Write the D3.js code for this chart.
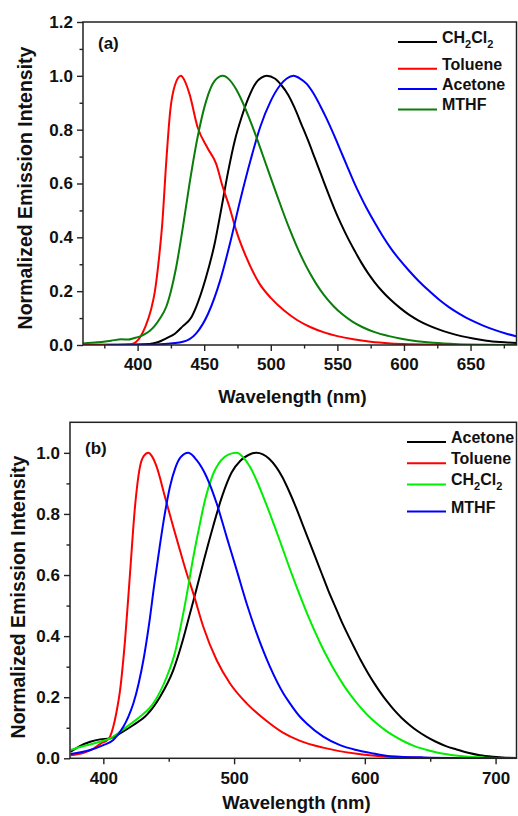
<!DOCTYPE html>
<html>
<head>
<meta charset="utf-8">
<script src="https://cdn.jsdelivr.net/npm/d3@7"></script>
<style>
  html, body { margin: 0; padding: 0; background: #fff; }
  svg { display: block; font-family: "Liberation Sans", Arial, Helvetica, sans-serif; font-weight: bold; }
</style>
</head>
<body>
<svg id="chart" width="518" height="816"></svg>
<script>
// ---------- Panel (a): emission spectra, [wavelength nm, normalized intensity] ----------
const a_CH2Cl2 = [[359,0],[380,0.001],[400,0.002],[409,0.004],[415,0.01],[421.5,0.025],[428,0.042],[434,0.07],[440,0.1],[444,0.142],[451,0.245],[458,0.38],[463,0.51],[468,0.645],[473,0.76],[478,0.845],[483,0.915],[489,0.975],[493,0.993],[497,1.0],[503,0.99],[508,0.965],[513,0.93],[518,0.88],[523,0.82],[528,0.76],[533,0.695],[538,0.63],[543,0.565],[548,0.503],[553,0.447],[558,0.396],[563,0.35],[568,0.306],[573,0.267],[578,0.233],[584,0.198],[590,0.168],[597,0.138],[604,0.112],[611,0.091],[618,0.074],[626,0.058],[634,0.045],[643,0.033],[652,0.024],[662,0.016],[672,0.011],[685,0.007]];
const a_Toluene = [[359,0],[385,0.001],[395,0.003],[399,0.012],[402,0.03],[406,0.07],[410,0.13],[413,0.2],[416,0.32],[418.5,0.45],[421.5,0.68],[424.5,0.87],[428,0.965],[432.5,1.0],[435,0.985],[439,0.932],[445,0.81],[452.7,0.73],[459,0.673],[464,0.586],[469,0.512],[474,0.426],[481.5,0.327],[491.5,0.228],[500,0.175],[510,0.128],[520,0.092],[530,0.066],[540,0.047],[550,0.033],[562,0.021],[575,0.012],[590,0.006],[605,0.003],[625,0.001],[685,0]];
const a_Acetone = [[377,0],[400,0.001],[420,0.004],[434,0.012],[444,0.043],[453,0.117],[462,0.24],[470,0.39],[477,0.537],[485,0.69],[492,0.809],[500,0.907],[507,0.965],[512,0.99],[517,1.0],[522,0.99],[527,0.97],[532,0.935],[537,0.89],[542,0.84],[547,0.785],[552,0.727],[557,0.668],[562,0.61],[567,0.557],[572,0.508],[578,0.455],[584,0.405],[590,0.36],[597,0.315],[604,0.275],[611,0.238],[618,0.205],[626,0.17],[634,0.14],[642,0.115],[650,0.093],[659,0.073],[668,0.056],[677,0.042],[685,0.031]];
const a_MTHF = [[359,0.006],[370,0.01],[380,0.016],[388,0.021],[393,0.02],[397,0.025],[401.5,0.031],[406,0.042],[409,0.052],[412.7,0.07],[417,0.1],[421.5,0.142],[425,0.2],[429,0.29],[434,0.438],[439,0.6],[445,0.771],[451.5,0.907],[457.7,0.98],[464,1.0],[469,0.985],[474,0.95],[479,0.9],[484,0.84],[489,0.775],[494,0.705],[499,0.635],[504,0.565],[509,0.497],[514,0.432],[519,0.372],[524,0.318],[529,0.27],[534,0.228],[540,0.185],[547,0.145],[554,0.113],[561,0.088],[569,0.066],[578,0.048],[588,0.034],[598,0.023],[610,0.014],[622,0.008],[640,0.003],[660,0.001],[685,0]];

// ---------- Panel (b) ----------
const b_Acetone = [[375,0.022],[382,0.04],[390,0.054],[397.5,0.062],[405,0.065],[412.8,0.082],[423,0.109],[433.2,0.142],[443.3,0.201],[453.5,0.289],[461,0.39],[466,0.47],[471,0.55],[477,0.65],[484,0.76],[491,0.86],[498,0.935],[505,0.975],[511,0.993],[517,1.0],[522,0.995],[527,0.98],[532,0.955],[537,0.92],[542,0.875],[547,0.825],[552,0.77],[557,0.715],[562,0.66],[567,0.605],[572,0.55],[577,0.5],[582,0.45],[587,0.405],[592,0.362],[597,0.32],[602,0.282],[607,0.247],[612,0.215],[617,0.186],[622,0.16],[628,0.133],[634,0.11],[640,0.09],[647,0.071],[654,0.055],[662,0.04],[670,0.029],[679,0.018],[688,0.01],[698,0.005],[708,0.002],[717,0.001]];
const b_Toluene = [[375,0.01],[385,0.018],[392,0.03],[398,0.048],[403,0.06],[405,0.07],[407.6,0.103],[410,0.15],[412.8,0.223],[416.6,0.387],[420.4,0.605],[424.2,0.823],[428,0.954],[431,0.99],[434.4,1.0],[437,0.99],[440.8,0.954],[447.2,0.855],[453.5,0.757],[458.6,0.681],[463.8,0.605],[468.8,0.54],[476.5,0.43],[486.7,0.321],[496.9,0.245],[509.6,0.18],[522.3,0.131],[537,0.085],[550,0.058],[568,0.035],[594,0.015],[619,0.005],[650,0.001],[717,0]];
const b_CH2Cl2 = [[375,0.027],[385,0.04],[397.5,0.054],[405,0.065],[412.8,0.087],[420,0.11],[428,0.136],[438.2,0.18],[448.5,0.267],[455,0.35],[460,0.45],[464,0.54],[468,0.64],[473,0.75],[478,0.85],[483,0.92],[490,0.975],[496,0.995],[502,1.0],[507,0.985],[512,0.955],[517,0.912],[522,0.86],[527,0.805],[532,0.748],[537,0.688],[542,0.628],[547,0.57],[552,0.515],[557,0.462],[562,0.413],[567,0.367],[572,0.325],[578,0.279],[584,0.238],[590,0.202],[596,0.17],[602,0.142],[608,0.118],[615,0.094],[622,0.074],[630,0.055],[638,0.04],[647,0.028],[656,0.018],[666,0.011],[677,0.006],[690,0.003],[705,0.001],[717,0]];
const b_MTHF = [[375,0.014],[389.8,0.027],[400,0.043],[407.6,0.06],[415.3,0.103],[419,0.135],[423,0.18],[427,0.245],[431,0.33],[435,0.44],[439,0.57],[443,0.69],[447,0.8],[451,0.89],[455,0.95],[459,0.985],[465,1.0],[471.4,0.976],[479,0.921],[486.7,0.834],[494.3,0.725],[502,0.616],[509.6,0.507],[517.3,0.409],[527.4,0.3],[537.6,0.213],[542.7,0.18],[550.4,0.136],[555.5,0.114],[568.2,0.071],[581,0.043],[593.7,0.027],[606.4,0.016],[619.2,0.007],[644.6,0.003],[717,0]];

// ---------- Axis ticks ----------
const xTicksA = [400, 450, 500, 550, 600, 650];
const xMinorA = [375, 425, 475, 525, 575, 625, 675];
const yTicksA = [0, 0.2, 0.4, 0.6, 0.8, 1.0, 1.2];
const yMinorA = [0.1, 0.3, 0.5, 0.7, 0.9, 1.1];
const xTicksB = [400, 500, 600, 700];
const xMinorB = [450, 550, 650];
const yTicksB = [0, 0.2, 0.4, 0.6, 0.8, 1.0];
const yMinorB = [0.1, 0.3, 0.5, 0.7, 0.9];

// ---------- Legend entries (label parts: [text, isSubscript]) ----------
const legendA = [
  { name: "CH2Cl2", parts: [["CH",0],["2",1],["Cl",0],["2",1]], color: "#000000", data: a_CH2Cl2 },
  { name: "Toluene", parts: [["Toluene",0]], color: "#ff0000", data: a_Toluene },
  { name: "Acetone", parts: [["Acetone",0]], color: "#0000ff", data: a_Acetone },
  { name: "MTHF", parts: [["MTHF",0]], color: "#0a7d0a", data: a_MTHF }
];
const legendB = [
  { name: "Acetone", parts: [["Acetone",0]], color: "#000000", data: b_Acetone },
  { name: "Toluene", parts: [["Toluene",0]], color: "#ff0000", data: b_Toluene },
  { name: "CH2Cl2", parts: [["CH",0],["2",1],["Cl",0],["2",1]], color: "#00ee00", data: b_CH2Cl2 },
  { name: "MTHF", parts: [["MTHF",0]], color: "#0000ff", data: b_MTHF }
];

const svg = d3.select("#chart");
const fmt1 = d3.format(".1f");

function drawPanel(p) {
  const x = d3.scaleLinear().domain(p.xDomain).range([p.left, p.right]);
  const y = d3.scaleLinear().domain(p.yDomain).range([p.bottom, p.top]);
  const g = svg.append("g");

  const clipId = "clip-" + p.tag.replace(/[()]/g, "");
  g.append("clipPath").attr("id", clipId)
    .append("rect").attr("x", p.left).attr("y", p.top)
    .attr("width", p.right - p.left).attr("height", p.bottom - p.top);

  // minor ticks
  g.append("g").attr("transform", `translate(0,${p.bottom})`)
    .call(d3.axisBottom(x).tickValues(p.xMinor).tickSize(3.5).tickFormat("").tickSizeOuter(0))
    .call(s => s.select(".domain").remove());
  g.append("g").attr("transform", `translate(${p.left},0)`)
    .call(d3.axisLeft(y).tickValues(p.yMinor).tickSize(3.5).tickFormat("").tickSizeOuter(0))
    .call(s => s.select(".domain").remove());

  // major ticks with labels
  const xa = g.append("g").attr("transform", `translate(0,${p.bottom})`)
    .call(d3.axisBottom(x).tickValues(p.xTicks).tickSize(6).tickPadding(p.xPad).tickSizeOuter(0));
  xa.select(".domain").remove();
  const ya = g.append("g").attr("transform", `translate(${p.left},0)`)
    .call(d3.axisLeft(y).tickValues(p.yTicks).tickSize(6).tickPadding(4).tickFormat(fmt1).tickSizeOuter(0));
  ya.select(".domain").remove();
  g.selectAll(".tick line").attr("stroke", "#222").attr("stroke-width", 1.4);
  g.selectAll(".tick text").attr("font-size", 17).attr("font-weight", "bold")
    .attr("font-family", "'Liberation Sans', Arial, sans-serif").attr("fill", "#111");

  // spectra
  const line = d3.line().x(d => x(d[0])).y(d => y(d[1])).curve(d3.curveMonotoneX);
  const lines = g.append("g").attr("clip-path", `url(#${clipId})`);
  p.series.forEach(s => {
    lines.append("path").datum(s.data)
      .attr("fill", "none").attr("stroke", s.color)
      .attr("stroke-width", 2).attr("stroke-linejoin", "round")
      .attr("d", line);
  });

  // frame
  g.append("rect").attr("x", p.left).attr("y", p.top)
    .attr("width", p.right - p.left).attr("height", p.bottom - p.top)
    .attr("fill", "none").attr("stroke", "#222").attr("stroke-width", 1.5);

  // panel tag
  g.append("text").attr("x", p.tagX).attr("y", p.tagY)
    .attr("font-size", 17).attr("fill", "#111").text(p.tag);

  // legend
  let ly = p.legendY;
  p.series.forEach(s => {
    g.append("line").attr("x1", p.legendX).attr("x2", p.legendX + 39)
      .attr("y1", ly).attr("y2", ly)
      .attr("stroke", s.color).attr("stroke-width", 2);
    const t = g.append("text").attr("x", p.legendX + 44).attr("y", ly + 6)
      .attr("font-size", 16).attr("fill", "#111");
    let hasSub = false;
    s.parts.forEach(([txt, sub]) => {
      if (sub) hasSub = true;
      t.append("tspan").attr("font-size", sub ? 11 : 16)
        .attr("dy", sub ? 5 : (t.selectAll("tspan").size() > 0 ? -5 : 0))
        .text(txt);
    });
    ly += p.legendStep + (hasSub ? p.legendExtra : 0);
  });

  // axis titles
  g.append("text").attr("x", p.xTitleX).attr("y", p.xTitleY)
    .attr("text-anchor", "middle").attr("font-size", 18.5).attr("fill", "#111")
    .text("Wavelength (nm)");
  g.append("text")
    .attr("transform", `translate(${p.yTitleX},${p.yTitleY}) rotate(-90)`)
    .attr("text-anchor", "middle").attr("font-size", 19.5).attr("fill", "#111")
    .text("Normalized Emission Intensity");
}

drawPanel({
  tag: "(a)", left: 83, right: 516.5, top: 22, bottom: 345,
  xDomain: [359, 684.5], yDomain: [0, 1.2],
  xTicks: xTicksA, xMinor: xMinorA, yTicks: yTicksA, yMinor: yMinorA, xPad: 7,
  series: legendA, legendX: 398, legendY: 42, legendStep: 20.3, legendExtra: 6.5,
  tagX: 98, tagY: 49, xTitleX: 292.5, xTitleY: 403, yTitleX: 32, yTitleY: 188
});

drawPanel({
  tag: "(b)", left: 70, right: 516.5, top: 422.3, bottom: 758.3,
  xDomain: [374.5, 716], yDomain: [0, 1.1],
  xTicks: xTicksB, xMinor: xMinorB, yTicks: yTicksB, yMinor: yMinorB, xPad: 8,
  series: legendB, legendX: 407, legendY: 442, legendStep: 21.2, legendExtra: 6,
  tagX: 85, tagY: 454, xTitleX: 296.5, xTitleY: 809, yTitleX: 25, yTitleY: 597
});
</script>
</body>
</html>
